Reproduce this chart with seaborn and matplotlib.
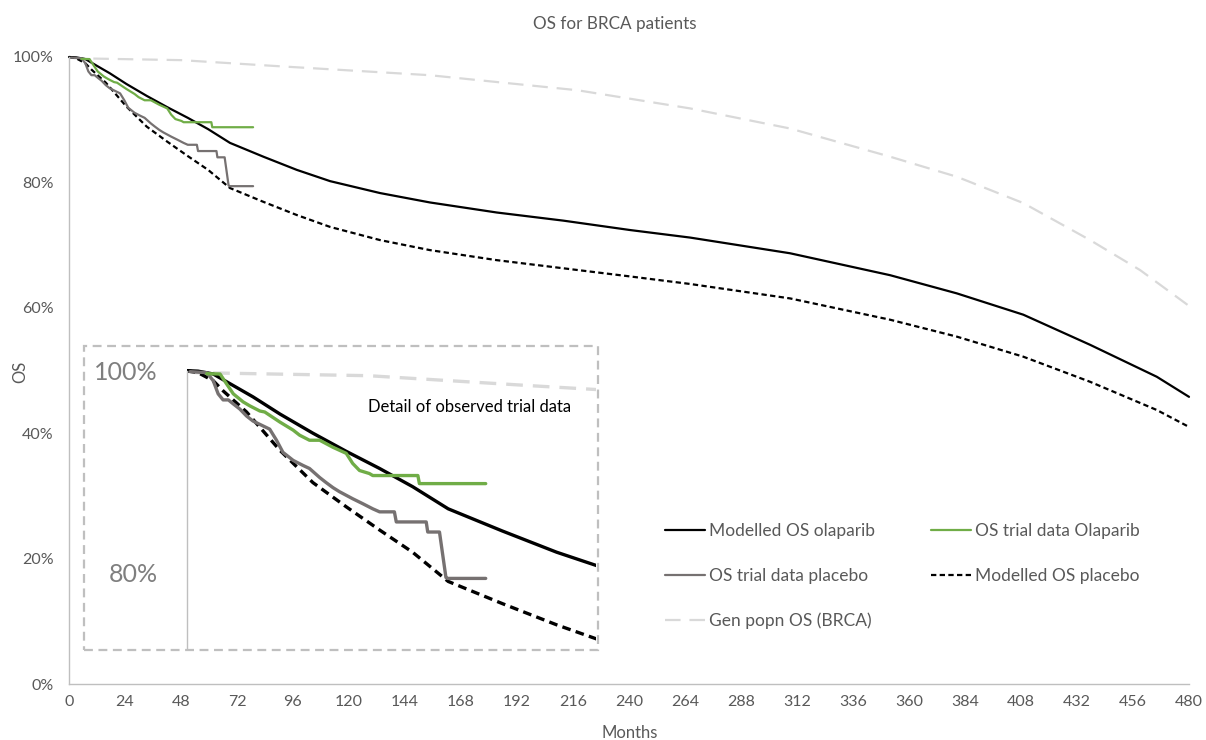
import matplotlib
matplotlib.use("Agg")
import matplotlib.pyplot as plt
from matplotlib.ticker import PercentFormatter
from matplotlib.patches import Rectangle
import seaborn as sns
import pandas as pd

# modelled curves (months, OS %)
mod_ola_m = [0, 3, 7, 11, 17.5, 24.6, 33.3, 42.1, 50.9, 59.6, 69.0, 83.3, 97.6, 111.9, 133.3, 154.7,
             183.3, 211.9, 240.5, 266.2, 309.0, 351.9, 380.5, 409.0, 437.6, 466.2, 480]
mod_ola_v = [100, 99.95, 99.67, 98.8, 97.4, 95.7, 93.8, 92.0, 90.3, 88.5, 86.3, 84.1, 82.0, 80.2, 78.3, 76.8,
             75.2, 73.9, 72.4, 71.2, 68.7, 65.2, 62.3, 58.9, 54.1, 49.0, 45.8]

mod_pla_m = [0, 3, 7, 9.6, 15.8, 24.6, 33.3, 42.1, 50.9, 59.6, 69.0, 83.3, 97.6, 111.9, 133.3, 154.7,
             183.3, 211.9, 240.5, 266.2, 309.0, 351.9, 380.5, 409.0, 437.6, 466.2, 480]
mod_pla_v = [100, 99.8, 99.0, 98.0, 95.9, 92.1, 88.9, 86.5, 84.2, 82.0, 79.1, 76.9, 74.8, 72.9, 70.8, 69.2,
             67.6, 66.3, 65.0, 63.8, 61.5, 58.1, 55.4, 52.2, 48.2, 43.7, 41.0]

gen_m = [0, 2.5, 48, 91.2, 154.5, 217.9, 266.2, 309.0, 351.9, 380.5, 409.0, 437.6, 459.1, 480]
gen_v = [100, 99.8, 99.5, 98.5, 97.1, 94.7, 91.8, 88.6, 84.1, 80.9, 76.7, 70.8, 66.0, 60.3]

# trial KM data
tri_ola_m = [5.3, 8.8, 10.5, 12.3, 14.9, 16.7, 19.3, 20.6, 24.6, 28.1, 29.8, 32.4, 35.1, 38.6, 42.1,
             43.8, 45.6, 48.2, 49.1, 61.0, 61.4, 78.9]
tri_ola_v = [99.7, 99.67, 98.7, 97.7, 96.9, 96.5, 96.0, 95.9, 94.9, 94.1, 93.6, 93.1, 93.1, 92.4, 91.8,
             90.8, 90.1, 89.8, 89.6, 89.6, 88.8, 88.8]

tri_pla_m = [0.9, 5.3, 7.0, 8.3, 9.6, 11.0, 12.3, 14.0, 15.8, 17.5, 19.7, 21.9, 23.7, 25.4, 28.1, 30.7,
             32.4, 35.1, 36.8, 38.6, 40.3, 43.8, 46.5, 49.1, 50.9, 54.8, 55.3, 63.2, 63.6, 66.7, 68.4,
             68.8, 78.9]
tri_pla_v = [99.9, 99.8, 99.0, 97.7, 97.1, 97.1, 96.7, 96.2, 95.5, 95.0, 94.6, 94.2, 93.1, 91.9, 91.1, 90.6,
             90.3, 89.4, 88.9, 88.4, 88.0, 87.3, 86.8, 86.3, 86.0, 86.0, 85.0, 85.0, 84.0, 84.0, 79.5,
             79.4, 79.4]

x_ticks = list(range(0, 481, 24))
y_ticks = [0, 20, 40, 60, 80, 100]

sns.set_theme(style="white")
plt.rcParams['font.family'] = ['Lato', 'DejaVu Sans']

txt = '#595959'
spine = '#BFBFBF'
green = '#70AD47'
grey = '#767171'
light = '#D9D9D9'

series = [
    ("Modelled OS olaparib", mod_ola_m, mod_ola_v, dict(color='black', ls='-')),
    ("OS trial data placebo", tri_pla_m, tri_pla_v, dict(color=grey, ls='-')),
    ("Gen popn OS (BRCA)", gen_m, gen_v, dict(color=light, dashes=(7, 4))),
    ("OS trial data Olaparib", tri_ola_m, tri_ola_v, dict(color=green, ls='-')),
    ("Modelled OS placebo", mod_pla_m, mod_pla_v, dict(color='black', dashes=(2.4, 1.5))),
]

fig = plt.figure(figsize=(12.06, 7.40), dpi=100)
ax = fig.add_axes([69/1206, 1-684/740, (1189-69)/1206, (684-57)/740])

# draw order: gen popn behind
order = [2, 4, 0, 1, 3]
for i in order:
    name, m, v, st = series[i]
    df = pd.DataFrame({'Months': m, 'OS': v})
    sns.lineplot(data=df, x='Months', y='OS', ax=ax, sort=False, estimator=None,
                 lw=1.6, label=name, clip_on=False, **st)

ax.set_xlim(0, 480)
ax.set_ylim(0, 100)
ax.set_xticks(x_ticks)
ax.set_yticks(y_ticks)
ax.yaxis.set_major_formatter(PercentFormatter(decimals=0))
ax.tick_params(axis='both', length=0, labelsize=11.5, colors=txt)
ax.tick_params(axis='x', pad=8)
ax.tick_params(axis='y', pad=11)
for s in ['top', 'right']:
    ax.spines[s].set_visible(False)
for s in ['left', 'bottom']:
    ax.spines[s].set_color(spine)
    ax.spines[s].set_linewidth(1)
ax.set_xlabel('')
ax.set_ylabel('')
fig.text(20/1206, 1-372/740, 'OS', rotation=90, ha='center', va='center', fontsize=12, color=txt)
fig.text(630/1206, 1-733/740, 'Months', ha='center', va='center', fontsize=12, color=txt)
fig.text(615/1206, 1-24/740, 'OS for BRCA patients', ha='center', va='center', fontsize=12.3, color=txt)

# legend in the original arrangement
handles, labels = ax.get_legend_handles_labels()
lookup = dict(zip(labels, handles))
names = [s[0] for s in series]
ax.legend([lookup[n] for n in names], names, ncol=2, frameon=False,
          loc='upper left', bbox_to_anchor=(665/1206, 1-523/740), bbox_transform=fig.transFigure,
          fontsize=12.5, labelcolor=txt, handlelength=2.3, handletextpad=0.25,
          columnspacing=3.2, labelspacing=1.66, borderpad=0, borderaxespad=0)

# inset with trial data detail
fig.add_artist(Rectangle((84/1206, 1-650/740), (598-84)/1206, (650-346)/740,
                         transform=fig.transFigure, fill=False, ec=spine, lw=1.6,
                         ls=(0, (4, 2.5))))
ins = fig.add_axes([186.7/1206, 1-648/740, (596-186.7)/1206, (648-364.6)/740])
ins.patch.set_alpha(0)
ins_style = {
    0: dict(color='black', ls='-'),
    1: dict(color=grey, ls='-'),
    2: dict(color=light, dashes=(5, 3)),
    3: dict(color=green, ls='-'),
    4: dict(color='black', dashes=(2.6, 1.6)),
}
for i in order:
    name, m, v, _ = series[i]
    df = pd.DataFrame({'Months': m, 'OS': v})
    sns.lineplot(data=df, x='Months', y='OS', ax=ins, sort=False, estimator=None,
                 lw=2.4, legend=False, **ins_style[i])
ins.set_xlim(0, 108)
ins.set_ylim(72.5, 100.6)
ins.set_xticks([])
ins.set_yticks([80, 100])
ins.yaxis.set_major_formatter(PercentFormatter(decimals=0))
ins.tick_params(axis='y', length=0, labelsize=18, colors='#7F7F7F', pad=21)
ins.set_xlabel('')
ins.set_ylabel('')
for s in ['top', 'right', 'bottom']:
    ins.spines[s].set_visible(False)
ins.spines['left'].set_color(spine)
ins.spines['left'].set_linewidth(1)
ins.spines['left'].set_bounds(72.5, 100)
fig.text(368/1206, 1-407/740, 'Detail of observed trial data', ha='left', va='center',
         fontsize=12, color='black')

fig.savefig('out.png', dpi=100)
